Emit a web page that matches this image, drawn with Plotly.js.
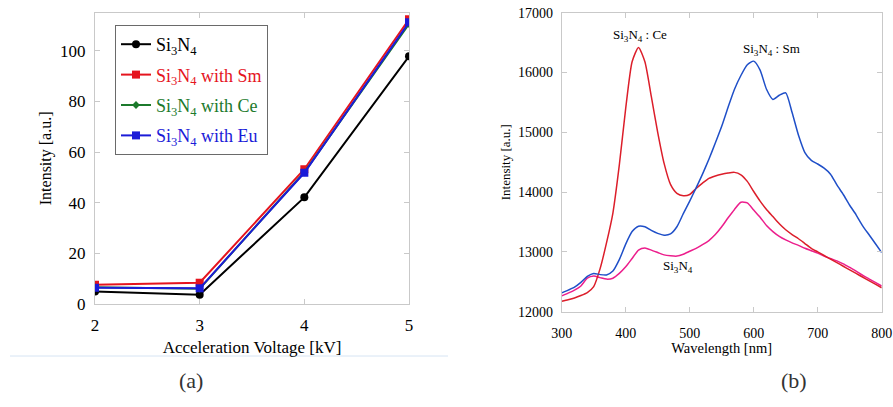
<!DOCTYPE html>
<html>
<head>
<meta charset="utf-8">
<script src="https://cdn.plot.ly/plotly-3.0.1.min.js"></script>
<style>
html,body{margin:0;padding:0;background:#fff;}
#chart{width:893px;height:407px;}
</style>
</head>
<body>
<div id="chart"></div>
<script>
// ---- Panel (a): intensity vs acceleration voltage ----
const voltage = [2, 3, 4, 5];
const si3n4 = [4.9, 3.7, 42.1, 97.8];
const si3n4Sm = [7.6, 8.4, 53.2, 112.4];
const si3n4Ce = [6.6, 6.0, 52.0, 110.5];
const si3n4Eu = [6.4, 6.2, 51.8, 111.2];
const seriesNamesA = ["Si<sub>3</sub>N<sub>4</sub>", "Si<sub>3</sub>N<sub>4</sub> with Sm", "Si<sub>3</sub>N<sub>4</sub> with Ce", "Si<sub>3</sub>N<sub>4</sub> with Eu"];
const voltageTicks = [2, 3, 4, 5];
const intensityTicksA = [0, 20, 40, 60, 80, 100];

// ---- Panel (b): emission spectra ----
const wavelength = [300,310,320,330,340,350,360,370,380,390,400,410,420,430,440,450,460,470,480,490,500,
  510,520,530,540,550,560,570,580,590,600,610,620,630,640,650,660,670,680,690,700,
  710,720,730,740,750,760,770,780,790,800];
const specCe = [12175,12200,12230,12270,12320,12420,12720,13150,13650,14450,15400,16180,16420,16180,15600,15000,14480,14130,13980,13940,13960,
  14060,14150,14230,14270,14300,14320,14330,14290,14180,14010,13850,13710,13590,13470,13370,13290,13220,13140,13060,13000,
  12940,12880,12820,12760,12700,12640,12580,12520,12460,12400];
const specSm = [12315,12360,12410,12490,12590,12640,12620,12615,12680,12870,13130,13340,13430,13420,13360,13310,13280,13300,13420,13640,13850,
  14070,14300,14550,14820,15100,15420,15720,15950,16130,16190,16040,15720,15550,15620,15660,15330,14950,14660,14530,14470,
  14400,14300,14120,13960,13780,13620,13440,13290,13140,12990];
const specBase = [12265,12310,12360,12430,12560,12595,12570,12545,12560,12640,12750,12890,13030,13065,13030,12990,12950,12935,12930,12960,13010,
  13060,13120,13190,13290,13420,13570,13710,13830,13820,13700,13580,13440,13340,13260,13200,13150,13110,13060,13020,12980,
  12930,12890,12850,12800,12740,12680,12610,12550,12490,12430];
const wavelengthTicks = [300, 400, 500, 600, 700, 800];
const intensityTicksB = [12000, 13000, 14000, 15000, 16000, 17000];
const labelsB = ["Si<sub>3</sub>N<sub>4</sub> : Ce", "Si<sub>3</sub>N<sub>4</sub> : Sm", "Si<sub>3</sub>N<sub>4</sub>"];

const SERIF = "Liberation Serif, Times New Roman, serif";
const colA = ["#000000", "#e5141e", "#1c7a2c", "#1b1bd8"];
const symA = ["circle", "square", "diamond", "square"];
const sizeA = [8, 8, 6, 8];
const ysA = [si3n4, si3n4Sm, si3n4Ce, si3n4Eu];

const traces = [];
ysA.forEach((ys, i) => {
  traces.push({
    x: voltage, y: ys, xaxis: "x", yaxis: "y", type: "scatter", mode: "lines+markers",
    name: '<span style="color:' + colA[i] + ';font-family:Liberation Serif">' + seriesNamesA[i] + '</span>',
    legendgroup: "g" + i,
    line: {color: colA[i], width: 2},
    marker: {color: colA[i], symbol: symA[i], size: sizeA[i]}
  });
});
const specCols = {ce: "#dc1e2a", sm: "#1f4fc8", base: "#ec1e8c"};
traces.push({x: wavelength, y: specBase, xaxis: "x2", yaxis: "y2", type: "scatter", mode: "lines",
  line: {color: specCols.base, width: 1.5, shape: "spline", smoothing: 0.6}, showlegend: false, hoverinfo: "skip"});
traces.push({x: wavelength, y: specCe, xaxis: "x2", yaxis: "y2", type: "scatter", mode: "lines",
  line: {color: specCols.ce, width: 1.5, shape: "spline", smoothing: 0.6}, showlegend: false, hoverinfo: "skip"});
traces.push({x: wavelength, y: specSm, xaxis: "x2", yaxis: "y2", type: "scatter", mode: "lines",
  line: {color: specCols.sm, width: 1.5, shape: "spline", smoothing: 0.6}, showlegend: false, hoverinfo: "skip"});

const W = 893, H = 407;
const gridCol = "#c9c9c9";
function axisBase(extra) {
  return Object.assign({
    showgrid: false, zeroline: false, showline: true, linecolor: gridCol, linewidth: 1,
    mirror: "ticks", ticks: "inside", ticklen: 5, tickcolor: gridCol, tickwidth: 1,
    color: "#000", tickformat: "d"
  }, extra);
}

const layout = {
  width: W, height: H,
  margin: {l: 0, r: 0, t: 0, b: 0},
  paper_bgcolor: "#fff", plot_bgcolor: "#fff",
  font: {family: SERIF, color: "#000"},
  showlegend: true,
  legend: {
    x: 115 / W, y: 1 - 25 / H, xanchor: "left", yanchor: "top",
    bgcolor: "#fff", bordercolor: "#6a6a6a", borderwidth: 1,
    font: {family: SERIF, size: 18},
    itemwidth: 30, tracegroupgap: 4
  },
  xaxis: axisBase({
    domain: [95 / W, 409 / W], range: [2, 5], tickvals: voltageTicks,
    tickfont: {family: SERIF, size: 17}, ticklabelstandoff: 6,
    title: {text: "Acceleration Voltage [kV]", font: {family: SERIF, size: 17}, standoff: 6},
    anchor: "y"
  }),
  yaxis: axisBase({
    domain: [1 - 304 / H, 1 - 12.7 / H], range: [0, 115], tickvals: intensityTicksA,
    tickfont: {family: SERIF, size: 17}, ticklabelstandoff: 5,
    title: {text: "Intensity [a.u.]", font: {family: SERIF, size: 16}, standoff: 4},
    anchor: "x"
  }),
  xaxis2: axisBase({
    domain: [561.7 / W, 881.7 / W], range: [300, 800], tickvals: wavelengthTicks,
    tickfont: {family: SERIF, size: 14}, ticklabelstandoff: 8,
    title: {text: "Wavelength [nm]", font: {family: SERIF, size: 14.5}, standoff: 1},
    anchor: "y2"
  }),
  yaxis2: axisBase({
    domain: [1 - 311.7 / H, 1 - 12.7 / H], range: [12000, 17000], tickvals: intensityTicksB,
    tickfont: {family: SERIF, size: 14}, ticklabelstandoff: 5,
    title: {text: "Intensity [a.u.]", font: {family: SERIF, size: 13}, standoff: 4},
    anchor: "x2"
  }),
  annotations: [
    {xref: "x2", yref: "y2", x: 422, y: 16620, text: labelsB[0], showarrow: false, font: {family: SERIF, size: 13}},
    {xref: "x2", yref: "y2", x: 628, y: 16390, text: labelsB[1], showarrow: false, font: {family: SERIF, size: 13}},
    {xref: "x2", yref: "y2", x: 481, y: 12750, text: labelsB[2], showarrow: false, font: {family: SERIF, size: 13}},
    {xref: "paper", yref: "paper", x: 177 / W, y: 1 - 395 / H, text: "(a)", showarrow: false,
      font: {family: SERIF, size: 22, color: "#333"}},
    {xref: "paper", yref: "paper", x: 809 / W, y: 1 - 395 / H, text: "(b)", showarrow: false,
      font: {family: SERIF, size: 22, color: "#333"}}
  ],
  shapes: [
    {type: "line", xref: "paper", yref: "paper", x0: 10 / W, x1: 448 / W, y0: 1 - 356 / H, y1: 1 - 356 / H,
      line: {color: "#d6e4f3", width: 1}}
  ]
};

Plotly.newPlot("chart", traces, layout, {displayModeBar: false, staticPlot: true});
</script>
</body>
</html>
